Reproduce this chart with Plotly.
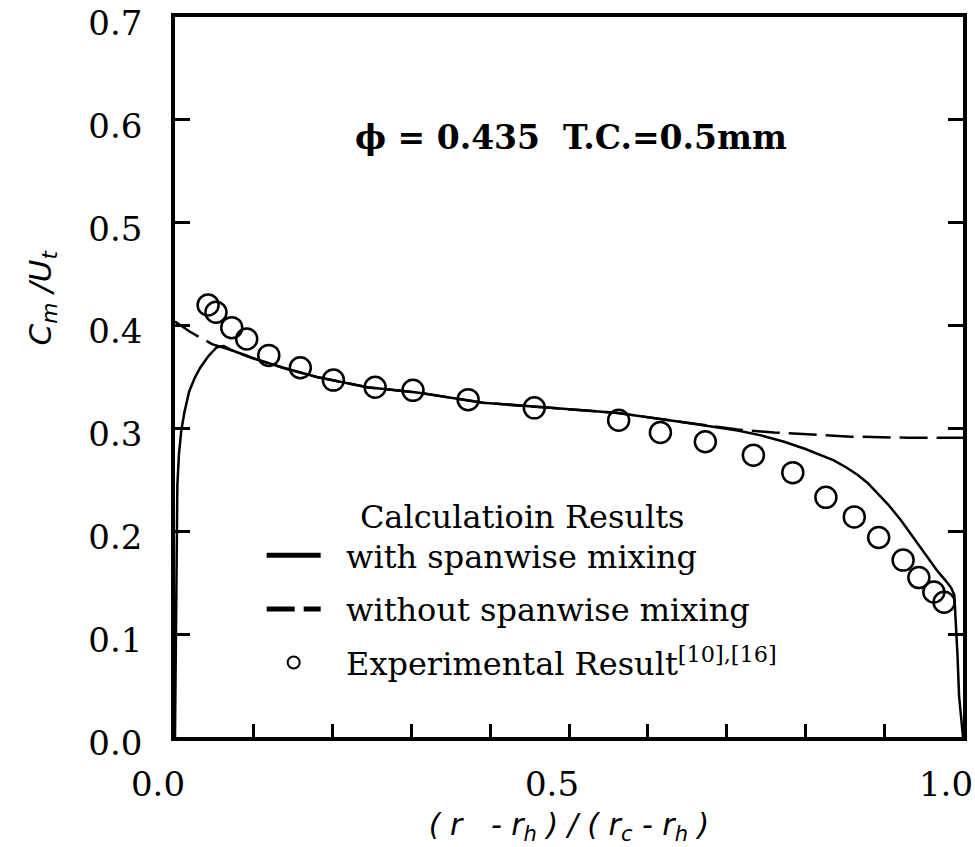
import plotly.graph_objects as go

# ---- data ----
exp_x = [0.042, 0.052, 0.072, 0.091, 0.119, 0.159, 0.201, 0.254, 0.302, 0.372,
         0.456, 0.563, 0.616, 0.673, 0.734, 0.784, 0.826, 0.862, 0.893, 0.924,
         0.944, 0.963, 0.976]
exp_y = [0.420, 0.413, 0.398, 0.387, 0.371, 0.359, 0.347, 0.340, 0.337, 0.328,
         0.320, 0.308, 0.296, 0.287, 0.274, 0.257, 0.233, 0.214, 0.194, 0.172,
         0.155, 0.141, 0.131]

with_x = [0.000, 0.001, 0.002, 0.003, 0.005, 0.008, 0.012, 0.018, 0.025, 0.032,
          0.042, 0.053, 0.062, 0.072, 0.100, 0.137, 0.180, 0.244, 0.307, 0.391,
          0.476, 0.562, 0.645, 0.714, 0.745, 0.773, 0.800, 0.820, 0.836, 0.852,
          0.866, 0.879, 0.892, 0.905, 0.921, 0.938, 0.955, 0.968, 0.978, 0.985,
          0.989, 0.991, 0.993, 0.995, 0.998, 1.000]
with_y = [0.000, 0.120, 0.200, 0.245, 0.275, 0.298, 0.316, 0.336, 0.349, 0.359,
          0.370, 0.379, 0.380, 0.376, 0.368, 0.359, 0.350, 0.340, 0.335, 0.325,
          0.320, 0.315, 0.306, 0.298, 0.293, 0.287, 0.280, 0.274, 0.269, 0.262,
          0.255, 0.247, 0.237, 0.226, 0.211, 0.193, 0.175, 0.161, 0.152, 0.145,
          0.138, 0.114, 0.080, 0.040, 0.015, 0.000]

without_x = [0.000, 0.019, 0.047, 0.072, 0.100, 0.137, 0.180, 0.244, 0.307, 0.391,
             0.476, 0.562, 0.645, 0.714, 0.760, 0.858, 0.930, 1.000]
without_y = [0.404, 0.394, 0.382, 0.376, 0.368, 0.359, 0.350, 0.340, 0.335, 0.325,
             0.320, 0.315, 0.306, 0.299, 0.296, 0.292, 0.291, 0.291]

x_tick_vals = [0.0, 0.5, 1.0]
x_tick_text = ["0.0", "0.5", "1.0"]
x_minor_vals = [0.1, 0.2, 0.3, 0.4, 0.6, 0.7, 0.8, 0.9]
y_tick_vals = [0.0, 0.1, 0.2, 0.3, 0.4, 0.5, 0.6, 0.7]
y_tick_text = ["0.0", "0.1", "0.2", "0.3", "0.4", "0.5", "0.6", "0.7"]

SERIF = "DejaVu Serif"
INK = "black"
NB = "\u00a0"

fig = go.Figure()
fig.add_trace(go.Scatter(
    x=with_x, y=with_y, mode="lines", name=NB * 2 + "with spanwise mixing",
    legendgroup="a", line=dict(color=INK, width=2.5)))
fig.add_trace(go.Scatter(
    x=without_x, y=without_y, mode="lines", name=NB * 2 + "without spanwise mixing",
    legendgroup="b", line=dict(color=INK, width=2.5, dash="28px,9px")))
fig.add_trace(go.Scatter(
    x=exp_x, y=exp_y, mode="markers",
    name=NB * 2 + "Experimental Result<sup>[10],[16]</sup>", legendgroup="c",
    marker=dict(symbol="circle-open", size=21, color=INK, line=dict(width=2.5, color=INK))))

axis_common = dict(
    showgrid=False, zeroline=False, showline=True, linecolor=INK, linewidth=3.5,
    ticks="inside", tickcolor=INK, tickwidth=2.5, ticklabeloverflow="allow",
    automargin=False,
    tickfont=dict(family=SERIF, size=34, color=INK),
)

fig.update_xaxes(
    **axis_common, range=[0, 1], mirror=True, ticklen=13,
    tickmode="array", tickvals=x_tick_vals, ticktext=x_tick_text,
    minor=dict(tickmode="array", tickvals=x_minor_vals, ticks="inside",
               ticklen=13, tickwidth=2.5, tickcolor=INK, showgrid=False),
    ticklabelstandoff=14, ticklabelshift=-17,
    title=dict(text="<i>(" + NB + "r" + NB * 3 + "- r<sub>h</sub>" + NB + ") / (" + NB
               + "r<sub>c</sub> - r<sub>h</sub>" + NB + ")</i>",
               font=dict(family="DejaVu Sans", size=30, color=INK), standoff=12),
)
fig.update_yaxes(
    **axis_common, range=[0, 0.7], mirror="ticks", ticklen=15,
    tickmode="array", tickvals=y_tick_vals, ticktext=y_tick_text,
    ticklabelstandoff=22, ticklabelshift=6,
)

fig.add_annotation(
    x=0.503, y=0.832, xref="paper", yref="paper", showarrow=False,
    text="<b>\u03d5 = 0.435" + NB * 2 + "T.C.=0.5mm</b>",
    font=dict(family=SERIF, size=33, color=INK), xanchor="center", yanchor="middle")

fig.add_annotation(
    x=-0.168, y=0.61, xref="paper", yref="paper", showarrow=False, textangle=-90,
    text="<i>C<sub>m</sub> /U<sub>t</sub></i>",
    font=dict(family="DejaVu Sans", size=31, color=INK), xanchor="center", yanchor="middle")

fig.update_layout(
    width=975, height=847,
    margin=dict(l=175, r=12, t=17, b=110, autoexpand=False),
    paper_bgcolor="white", plot_bgcolor="white",
    showlegend=True,
    legend=dict(
        x=0.11, y=0.348, xanchor="left", yanchor="top",
        bgcolor="rgba(0,0,0,0)", borderwidth=0,
        font=dict(family=SERIF, size=32, color=INK),
        title=dict(text="Calculatioin Results", side="top center",
                   font=dict(family=SERIF, size=32, color=INK)),
        itemsizing="constant", itemwidth=54, tracegroupgap=9,
    ),
)

fig.write_html("out.html")
